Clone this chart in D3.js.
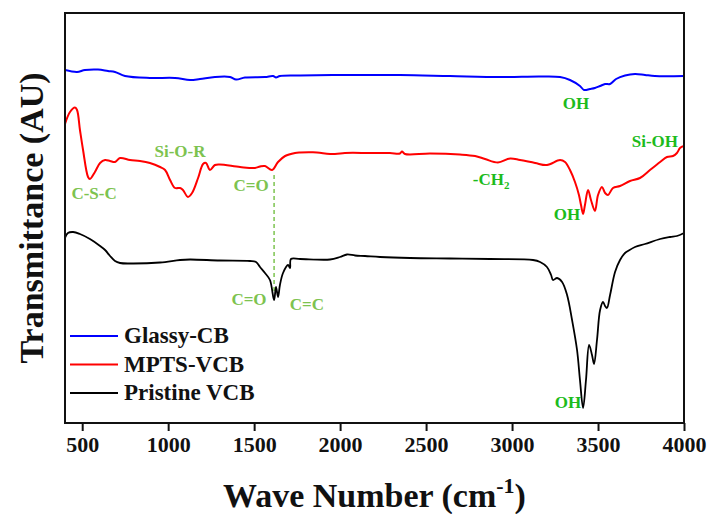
<!DOCTYPE html>
<html>
<head>
<meta charset="utf-8">
<script src="https://cdn.jsdelivr.net/npm/d3@7"></script>
<style>
  body { margin: 0; background: #fff; }
  svg text { font-family: "Liberation Serif", "Times New Roman", serif; font-weight: bold; }
</style>
</head>
<body>
<div id="chart"></div>
<script>
// FTIR spectra, [wave number (cm-1), transmittance (arbitrary units, offset per sample)]
const glassyCB = [
  [400,353],[470,351],[516,353],[592,353.5],[650,352],[691,351],[749,347],[894,345],
  [1040,345],[1127,343],[1185,344],[1272,346],[1360,346],[1395,343.5],[1447,345.5],
  [1563,346],[1610,347],[1627,345.5],[1650,347],[1767,347.5],[2058,348],[2348,348],
  [2639,347],[2930,346],[3163,346.5],[3279,346],[3337,343],[3395,337],[3419,333],
  [3453,334],[3482,335],[3512,337],[3541,339],[3570,339],[3605,344],[3657,347.5],
  [3715,349],[3773,348],[3831,347],[4000,347]
];
const mptsVCB = [
  [400,299],[429,311],[458,315.5],[470,313],[487,293],[505,273],[534,246],[545,244],
  [574,251],[604,260],[633,263],[662,262],[691,261],[720,265],[778,263],[836,262],
  [894,260],[953,256],[982,253],[1011,243],[1040,235],[1069,235],[1086,233],[1115,226],
  [1139,230],[1174,245],[1203,259],[1220,260],[1243,253],[1272,258],[1301,258.5],
  [1418,256],[1505,255],[1534,256.5],[1563,257],[1604,253],[1639,261],[1680,267],
  [1738,270],[1767,270.5],[1842,270.7],[1970,269],[2028,270],[2174,270],[2290,270],
  [2348,269.5],[2360,271.5],[2377,269],[2523,269.5],[2697,268.5],[2785,267],[2843,264],
  [2918,260.5],[2988,264.5],[3046,263],[3134,260],[3203,258],[3279,263],[3308,261],
  [3337,253],[3366,241],[3389,228],[3401,218],[3413,209],[3424,218],[3442,233],
  [3459,223],[3482,212],[3500,228],[3523,236],[3541,230],[3558,228],[3587,235],
  [3628,237],[3686,242],[3744,245],[3802,253],[3861,261],[3901,266],[3936,267],
  [3959,270],[3977,275],[4000,277]
];
const pristineVCB = [
  [400,185],[417,190],[447,191],[487,189],[545,184],[604,177],[633,173],[662,167],
  [691,162],[720,160],[778,159.5],[953,160.5],[1069,163],[1127,163.5],[1301,162.5],
  [1476,162],[1511,161],[1534,156],[1563,150],[1592,143],[1616,123],[1627,136],
  [1639,126],[1650,138],[1668,150],[1697,158],[1709,155],[1714,164],[1767,164],
  [1941,163.5],[1999,166],[2040,168.5],[2087,167.5],[2145,167],[2232,166],[2407,165],
  [2639,164.5],[2872,164],[3122,163],[3163,161],[3203,156],[3227,148],[3238,143],
  [3262,145],[3291,141],[3320,128],[3349,103],[3378,73],[3395,43],[3413,15],[3430,43],
  [3448,78],[3465,68],[3477,59],[3494,83],[3512,113],[3529,121],[3541,117],[3552,115],
  [3570,128],[3599,151],[3628,163],[3657,170],[3674,172],[3715,176],[3773,179],
  [3861,184],[3919,186],[3959,187],[4000,190]
];

const seriesNames = ["Glassy-CB", "MPTS-VCB", "Pristine VCB"];
const seriesColors = ["#0000ff", "#ff0000", "#000000"];
const xTicks = [500, 1000, 1500, 2000, 2500, 3000, 3500, 4000];

// peak labels: [text, wave number, transmittance, light/bright]
const peakLabels = [
  ["OH", 3372, 314, "bright"],
  ["C-S-C", 569, 224, "light"],
  ["Si-O-R", 1069, 266, "light"],
  ["C=O", 1482, 232, "light"],
  ["OH", 3320, 203, "bright"],
  ["Si-OH", 3831, 276, "bright"],
  ["C=O", 1470, 118, "light"],
  ["C=C", 1807, 113, "light"],
  ["OH", 3325, 15, "bright"]
];
const ch2Label = [2878, 238];
const guideLine = [1616, 248, 130];

const margin = {top: 13, right: 24, bottom: 91, left: 65};
const width = 708, height = 514;
const innerW = width - margin.left - margin.right;
const innerH = height - margin.top - margin.bottom;

const svg = d3.select("#chart").append("svg")
  .attr("width", width).attr("height", height);

const g = svg.append("g")
  .attr("transform", "translate(" + margin.left + "," + margin.top + ")");

const xScale = d3.scaleLinear().domain([400, 4000]).range([0, innerW]);
const yScale = d3.scaleLinear().domain([0, 410]).range([innerH, 0]);

g.append("clipPath").attr("id", "plotClip")
  .append("rect").attr("width", innerW).attr("height", innerH);

const line = d3.line()
  .x(d => xScale(d[0]))
  .y(d => yScale(d[1]))
  .curve(d3.curveCatmullRom.alpha(0.5));

// guide line through C=O
g.append("line")
  .attr("x1", xScale(guideLine[0])).attr("x2", xScale(guideLine[0]))
  .attr("y1", yScale(guideLine[1])).attr("y2", yScale(guideLine[2]))
  .attr("stroke", "#7dc34f").attr("stroke-width", 1.5)
  .attr("stroke-dasharray", "4,3");

const allSeries = [glassyCB, mptsVCB, pristineVCB];
g.append("g").attr("clip-path", "url(#plotClip)")
  .selectAll("path")
  .data(allSeries)
  .join("path")
  .attr("d", line)
  .attr("fill", "none")
  .attr("stroke", (d, i) => seriesColors[i])
  .attr("stroke-width", (d, i) => i === 2 ? 1.8 : 2)
  .attr("stroke-linejoin", "round");

// peak labels
g.selectAll(".peakLabel")
  .data(peakLabels)
  .join("text")
  .attr("class", "peakLabel")
  .attr("x", d => xScale(d[1]))
  .attr("y", d => yScale(d[2]))
  .attr("text-anchor", "middle")
  .attr("font-size", "17px")
  .attr("fill", d => d[3] === "light" ? "#7dc34f" : "#1cbb1c")
  .text(d => d[0]);

const ch2 = g.append("text")
  .attr("x", xScale(ch2Label[0]))
  .attr("y", yScale(ch2Label[1]))
  .attr("text-anchor", "middle")
  .attr("font-size", "17px")
  .attr("fill", "#1cbb1c");
ch2.append("tspan").text("-CH");
ch2.append("tspan").attr("font-size", "11px").attr("dy", 4).text("2");

// frame
g.append("rect")
  .attr("width", innerW).attr("height", innerH)
  .attr("fill", "none").attr("stroke", "#111").attr("stroke-width", 2);

// x axis
const xAxisG = g.append("g")
  .attr("transform", "translate(0," + innerH + ")")
  .call(d3.axisBottom(xScale).tickValues(xTicks).tickSize(8).tickPadding(5).tickFormat(d3.format("d")));
xAxisG.select(".domain").remove();
xAxisG.selectAll("line").attr("stroke", "#111").attr("stroke-width", 2);
xAxisG.selectAll("text")
  .attr("font-size", "22px")
  .attr("fill", "#111")
  .attr("font-family", "'Liberation Serif', serif")
  .attr("font-weight", "bold");

// axis titles
const xTitle = svg.append("text")
  .attr("x", margin.left + innerW / 2)
  .attr("y", 507)
  .attr("text-anchor", "middle")
  .attr("font-size", "34px")
  .attr("fill", "#111");
xTitle.append("tspan").text("Wave Number (cm");
xTitle.append("tspan").attr("font-size", "22px").attr("dy", -14).text("-1");
xTitle.append("tspan").attr("dy", 14).text(")");

svg.append("text")
  .attr("transform", "translate(43," + (margin.top + innerH / 2) + ") rotate(-90)")
  .attr("text-anchor", "middle")
  .attr("font-size", "34px")
  .attr("fill", "#111")
  .text("Transmittance (AU)");

// legend
const legend = g.append("g").attr("transform", "translate(5," + (innerH - 87) + ")");
const legendItems = legend.selectAll("g")
  .data(seriesNames)
  .join("g")
  .attr("transform", (d, i) => "translate(0," + i * 28.5 + ")");
legendItems.append("line")
  .attr("x1", 0).attr("x2", 48)
  .attr("stroke", (d, i) => seriesColors[i])
  .attr("stroke-width", 2);
legendItems.append("text")
  .attr("x", 54).attr("y", 7)
  .attr("font-size", "23px")
  .attr("fill", "#111")
  .text(d => d);
</script>
</body>
</html>
